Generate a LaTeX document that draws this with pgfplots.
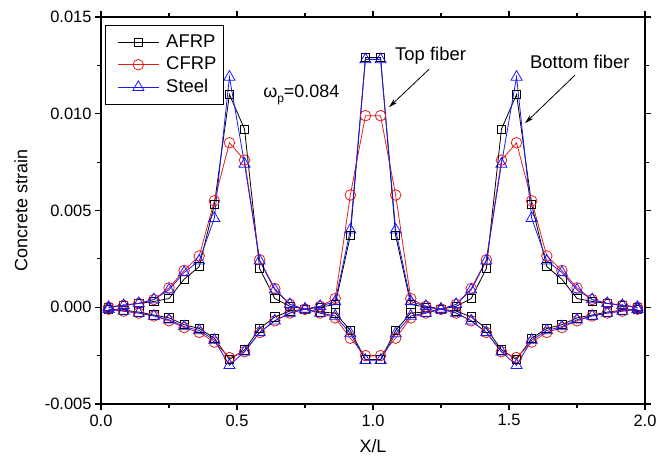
\documentclass[border=0pt]{standalone}
\usepackage{fontspec}
\setmainfont{Liberation Sans}
\usepackage{pgfplots}
\pgfplotsset{compat=1.18}
\usepackage{pgfplotstable}
\usetikzlibrary{arrows.meta}
\definecolor{cfrp}{RGB}{225,30,30}
\definecolor{steel}{RGB}{25,25,255}
\pgfplotsset{legend image code/.code={\path (0bp,0bp); \draw[mark repeat=2,mark phase=2,#1] plot coordinates {(5bp,0bp)(25.5bp,0bp)(46bp,0bp)};}}

\pgfplotstableread{
x Ab At Cb Ct Sb St
0.0278 0.0000 -0.0001 0.0000 -0.0001 0.0000 -0.0001
0.0833 0.0001 -0.00015 0.0001 -0.0002 0.0001 -0.0002
0.1389 0.0002 -0.00025 0.0002 -0.0003 0.0002 -0.0003
0.1944 0.0003 -0.0004 0.0004 -0.00045 0.0004 -0.00045
0.2500 0.00045 -0.00055 0.0010 -0.0007 0.0009 -0.00065
0.3056 0.00145 -0.0009 0.0019 -0.00105 0.0018 -0.0010
0.3611 0.0021 -0.0011 0.00265 -0.0013 0.0024 -0.0012
0.4167 0.0053 -0.0016 0.0055 -0.0018 0.0046 -0.0017
0.4722 0.0110 -0.0027 0.0085 -0.0026 0.0119 -0.0030
0.5278 0.0092 -0.0022 0.0076 -0.0023 0.0074 -0.0023
0.5833 0.0020 -0.0011 0.00245 -0.0013 0.0024 -0.0013
0.6389 0.00045 -0.0005 0.00097 -0.0007 0.0009 -0.0007
0.6944 0.00005 -0.0002 0.00015 -0.0003 0.00015 -0.0003
0.7500 -0.0001 -0.0001 -0.0001 -0.0001 -0.0001 -0.0001
0.8056 -0.00025 0.0000 -0.0003 0.00005 -0.0003 0.00005
0.8611 -0.0003 0.00015 -0.00055 0.00045 -0.00045 0.0003
0.9167 -0.0012 0.0037 -0.0016 0.0058 -0.00136 0.0040
0.9722 -0.0027 0.0129 -0.0025 0.0099 -0.00274 0.0128
1.0278 -0.0027 0.0129 -0.0025 0.0099 -0.00274 0.0128
1.0833 -0.0012 0.0037 -0.0016 0.0058 -0.00136 0.0040
1.1389 -0.0003 0.00015 -0.00055 0.00045 -0.00045 0.0003
1.1944 -0.00025 0.0000 -0.0003 0.00005 -0.0003 0.00005
1.2500 -0.0001 -0.0001 -0.0001 -0.0001 -0.0001 -0.0001
1.3056 0.00005 -0.0002 0.00015 -0.0003 0.00015 -0.0003
1.3611 0.00045 -0.0005 0.00097 -0.0007 0.0009 -0.0007
1.4167 0.0020 -0.0011 0.00245 -0.0013 0.0024 -0.0013
1.4722 0.0092 -0.0022 0.0076 -0.0023 0.0074 -0.0023
1.5278 0.0110 -0.0027 0.0085 -0.0026 0.0119 -0.0030
1.5833 0.0053 -0.0016 0.0055 -0.0018 0.0046 -0.0017
1.6389 0.0021 -0.0011 0.00265 -0.0013 0.0024 -0.0012
1.6944 0.00145 -0.0009 0.0019 -0.00105 0.0018 -0.0010
1.7500 0.00045 -0.00055 0.0010 -0.0007 0.0009 -0.00065
1.8056 0.0003 -0.0004 0.0004 -0.00045 0.0004 -0.00045
1.8611 0.0002 -0.00025 0.0002 -0.0003 0.0002 -0.0003
1.9167 0.0001 -0.00015 0.0001 -0.0002 0.0001 -0.0002
1.9722 0.0000 -0.0001 0.0000 -0.0001 0.0000 -0.0001
}\data

\begin{document}
\begin{tikzpicture}
\useasboundingbox (-101bp,-61bp) rectangle (570bp,404bp);
\begin{axis}[
  at={(0,0)}, anchor=south west,
  scale only axis, width=544bp, height=387bp,
  xmin=0, xmax=2, ymin=-0.005, ymax=0.015,
  xtick={0,0.5,1,1.5,2}, xticklabels={0.0,0.5,1.0,1.5,2.0},
  ytick={-0.005,0,0.005,0.01,0.015},
  yticklabels={-0.005,0.000,0.005,0.010,0.015},
  minor x tick num=1, minor y tick num=1,
  scaled y ticks=false, scaled x ticks=false,
  tick align=outside,
  major tick length=6bp, minor tick length=3.5bp,
  every tick/.style={black, line width=1.2bp},
  axis line style={line width=1.6bp},
  ticklabel style={font=\fontsize{16.5}{19}\selectfont},
  xticklabel style={yshift=-1bp},
  xlabel={X/L}, ylabel={Concrete strain},
  label style={font=\fontsize{18}{21}\selectfont},
  xlabel style={at={(axis description cs:0.5,-0.1085)}, anchor=center},
  ylabel style={at={(axis description cs:-0.147,0.5)}, anchor=center},
  legend style={at={(axis description cs:0.0074,0.979)}, anchor=north west,
    draw=black, line width=0.8bp, font=\fontsize{18.5}{22}\selectfont,
    inner xsep=7bp, inner ysep=8bp, row sep=5bp, column sep=7bp,
    nodes={inner sep=0pt, text height=13.5bp, text depth=4bp}},
  legend cell align=left,
  every axis plot/.append style={line width=0.8bp},
]
\addplot[black, mark=square, mark size=4.2bp, mark options={solid, fill=white, line width=0.8bp}] table[x=x,y=Ab] {\data};
\addlegendentry{AFRP}
\addplot[black, mark=square, mark size=4.2bp, mark options={solid, fill=white, line width=0.8bp}, forget plot] table[x=x,y=At] {\data};
\addplot[cfrp, mark=o, mark size=5.3bp, mark options={solid, fill=white, line width=0.8bp}] table[x=x,y=Cb] {\data};
\addlegendentry{CFRP}
\addplot[cfrp, mark=o, mark size=5.3bp, mark options={solid, fill=white, line width=0.8bp}, forget plot] table[x=x,y=Ct] {\data};
\addplot[steel, mark=triangle, mark size=6.4bp, mark options={solid, fill=white, line width=0.8bp}] table[x=x,y=Sb] {\data};
\addlegendentry{Steel}
\addplot[steel, mark=triangle, mark size=6.4bp, mark options={solid, fill=white, line width=0.8bp}, forget plot] table[x=x,y=St] {\data};

\node[anchor=west, font=\fontsize{18.5}{22}\selectfont, inner sep=0pt] at (axis cs:1.081,0.01302) {Top fiber};
\draw[line width=0.8bp, -{Stealth[length=9bp,width=5bp]}] (axis cs:1.206,0.0123) -- (axis cs:1.059,0.01034);
\node[anchor=west, font=\fontsize{18.5}{22}\selectfont, inner sep=0pt] at (axis cs:1.577,0.01266) {Bottom fiber};
\draw[line width=0.8bp, -{Stealth[length=9bp,width=5bp]}] (axis cs:1.743,0.0120) -- (axis cs:1.559,0.00951);
\node[anchor=west, font=\fontsize{18}{21}\selectfont, inner sep=0pt] at (axis cs:0.596,0.01096) {ω\raisebox{-0.55ex}{\fontsize{12}{13}\selectfont p}=0.084};
\end{axis}
\end{tikzpicture}
\end{document}
